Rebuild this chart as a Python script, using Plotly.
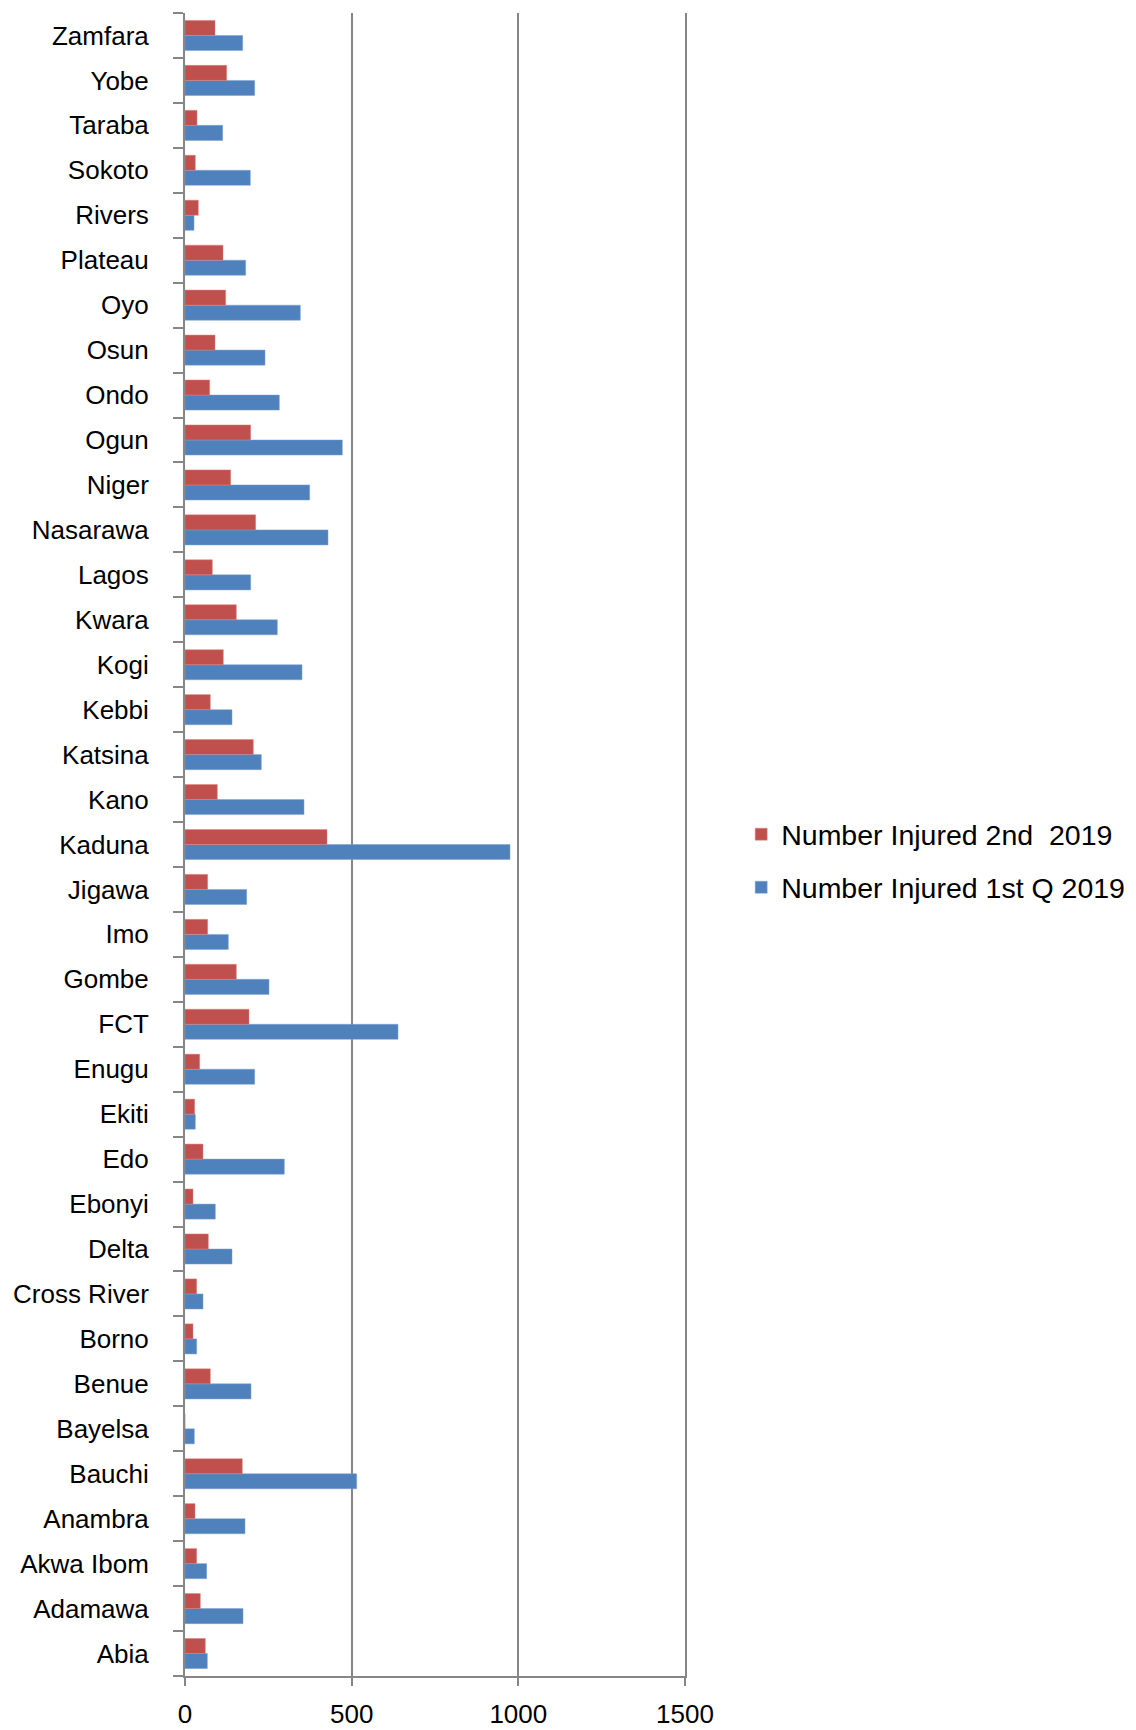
import plotly.graph_objects as go

states = ["Abia", "Adamawa", "Akwa Ibom", "Anambra", "Bauchi", "Bayelsa", "Benue",
          "Borno", "Cross River", "Delta", "Ebonyi", "Edo", "Ekiti", "Enugu", "FCT",
          "Gombe", "Imo", "Jigawa", "Kaduna", "Kano", "Katsina", "Kebbi", "Kogi",
          "Kwara", "Lagos", "Nasarawa", "Niger", "Ogun", "Ondo", "Osun", "Oyo",
          "Plateau", "Rivers", "Sokoto", "Taraba", "Yobe", "Zamfara"]

injured_q1 = [67, 174, 65, 180, 515, 28, 198, 35, 54, 141, 91, 298, 31, 209, 639,
              252, 130, 185, 975, 357, 229, 141, 351, 277, 197, 429, 374, 472, 283,
              240, 346, 182, 27, 196, 113, 209, 173]

injured_q2 = [61, 46, 35, 30, 172, 0, 76, 24, 35, 70, 24, 54, 29, 44, 192,
              154, 68, 68, 426, 97, 205, 76, 115, 154, 82, 212, 137, 197, 74,
              90, 122, 114, 40, 31, 36, 125, 90]

x_ticks = [0, 500, 1000, 1500]

FONT = "Liberation Sans, Arial, sans-serif"

fig = go.Figure()
fig.add_trace(go.Bar(
    y=states, x=injured_q1, orientation="h",
    name="Number Injured 1st Q 2019",
    marker=dict(color="#4F81BD", line=dict(color="#7FA3D0", width=0.5)),
    legendgroup="q1", legendrank=2,
))
fig.add_trace(go.Bar(
    y=states, x=injured_q2, orientation="h",
    name="Number Injured 2nd  2019",
    marker=dict(color="#C0504D", line=dict(color="#D88683", width=0.5)),
    legendgroup="q2", legendrank=1,
))

fig.update_layout(
    width=1128, height=1722,
    margin=dict(l=177, r=451, t=5, b=54),
    paper_bgcolor="white", plot_bgcolor="white",
    barmode="group", bargap=0.33, bargroupgap=0,
    font=dict(family=FONT, size=26, color="black"),
    showlegend=True,
    legend=dict(
        xref="container", yref="paper",
        x=0.650, xanchor="left", y=0.49, yanchor="middle",
        traceorder="grouped", tracegroupgap=13,
        font=dict(family=FONT, size=28.5, color="black"),
        bgcolor="rgba(0,0,0,0)",
    ),
)

fig.update_xaxes(
    range=[0, 1500], tickvals=x_ticks, ticktext=[str(v) for v in x_ticks],
    showgrid=True, gridcolor="#868686", gridwidth=2,
    showline=True, linecolor="#868686", linewidth=2,
    ticks="outside", ticklen=8, tickcolor="#868686", tickwidth=2,
    ticklabelstandoff=6,
    zeroline=False, automargin=False,
    tickfont=dict(family=FONT, size=26, color="black"),
    fixedrange=True,
)
fig.update_yaxes(
    type="category", categoryorder="array", categoryarray=states,
    showline=True, linecolor="#868686", linewidth=2, mirror=True,
    ticks="outside", ticklen=10, tickcolor="#868686", tickwidth=2,
    tickson="boundaries", ticklabelstandoff=29,
    showgrid=False, automargin=False,
    tickfont=dict(family=FONT, size=26, color="black"),
    fixedrange=True,
)

fig.write_html("out.html")
